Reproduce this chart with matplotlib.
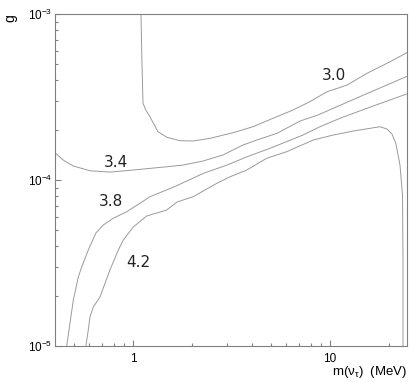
import matplotlib
matplotlib.use("Agg")
import matplotlib.pyplot as plt
from matplotlib.ticker import FixedLocator, FuncFormatter, NullFormatter

plt.rcParams['font.family'] = ['Liberation Sans', 'DejaVu Sans']
plt.rcParams['mathtext.fontset'] = 'custom'
plt.rcParams['mathtext.rm'] = 'Liberation Sans'
plt.rcParams['mathtext.it'] = 'Liberation Sans'

# contour levels and their label positions (MeV, g)
levels = ["3.0", "3.4", "3.8", "4.2"]
label_x = [10.5, 0.82, 0.773, 1.064]
label_y = [4.25e-4, 1.274e-4, 7.42e-5, 3.18e-5]

# contour 3.0
m30 = [1.098, 1.11, 1.124, 1.16, 1.22, 1.339, 1.488, 1.732, 2.017, 2.46, 3.22, 4.07,
       5.14, 6.49, 7.91, 9.66, 12.2, 15.4, 20.2, 24.9]
g30 = [1.0e-3, 5.28e-4, 2.91e-4, 2.65e-4, 2.40e-4, 1.955e-4, 1.807e-4, 1.725e-4,
       1.718e-4, 1.782e-4, 1.927e-4, 2.095e-4, 2.354e-4, 2.64e-4, 2.965e-4,
       3.40e-4, 3.73e-4, 4.39e-4, 5.16e-4, 5.90e-4]

# contour 3.4
m34 = [0.405, 0.443, 0.498, 0.605, 0.764, 1.0, 1.488, 1.794, 2.266, 2.86, 3.62,
       4.26, 5.38, 7.04, 8.69, 10.85, 14.2, 18.6, 24.9]
g34 = [1.449e-4, 1.318e-4, 1.214e-4, 1.137e-4, 1.116e-4, 1.148e-4, 1.202e-4,
       1.230e-4, 1.301e-4, 1.415e-4, 1.625e-4, 1.742e-4, 1.911e-4, 2.265e-4,
       2.464e-4, 2.765e-4, 3.18e-4, 3.65e-4, 4.24e-4]

# contour 3.8
m38 = [0.461, 0.479, 0.498, 0.528, 0.549, 0.593, 0.649, 0.707, 0.794, 0.929,
       1.085, 1.22, 1.634, 2.275, 3.00, 3.79, 4.96, 7.29, 8.90, 11.24, 15.4, 24.9]
g38 = [1.0e-5, 1.377e-5, 1.892e-5, 2.605e-5, 2.99e-5, 3.78e-5, 4.80e-5, 5.36e-5,
       5.88e-5, 6.44e-5, 7.24e-5, 7.93e-5, 9.14e-5, 1.096e-4, 1.230e-4, 1.380e-4,
       1.552e-4, 1.866e-4, 2.094e-4, 2.354e-4, 2.704e-4, 3.32e-4]

# contour 4.2
m42 = [0.577, 0.593, 0.605, 0.629, 0.680, 0.764, 0.842, 0.893, 1.003, 1.174,
       1.483, 1.673, 2.02, 2.66, 3.11, 3.78, 4.77, 6.03, 8.23, 10.39, 13.13,
       17.94, 19.47, 20.64, 21.63, 22.66, 23.34, 23.48, 23.48]
g42 = [1.0e-5, 1.247e-5, 1.495e-5, 1.718e-5, 1.973e-5, 2.87e-5, 3.78e-5, 4.35e-5,
       5.21e-5, 6.07e-5, 6.59e-5, 7.37e-5, 7.93e-5, 9.54e-5, 1.046e-4, 1.148e-4,
       1.351e-4, 1.481e-4, 1.742e-4, 1.866e-4, 1.973e-4, 2.094e-4, 2.028e-4,
       1.892e-4, 1.648e-4, 1.230e-4, 8.13e-5, 3.30e-5, 1.0e-5]

xticks = [1, 10]
xticklabels = ["1", "10"]
yticks = [1e-5, 1e-4, 1e-3]
yticklabels = [r"$10^{-5}$", r"$10^{-4}$", r"$10^{-3}$"]

fig = plt.figure(figsize=(4.09, 3.82), dpi=100)
ax = fig.add_axes([55 / 409, 1 - 346 / 382, 352 / 409, 332 / 382])

line_col = "#9a9a9a"
for mx, gy in [(m30, g30), (m34, g34), (m38, g38), (m42, g42)]:
    ax.plot(mx, gy, color=line_col, lw=0.7)

for t, lx, ly in zip(levels, label_x, label_y):
    ax.text(lx, ly, t, fontsize=11, family="DejaVu Sans", color="#222222",
            ha="center", va="center")

ax.set_xscale("log")
ax.set_yscale("log")
ax.set_xlim(0.402, 24.6)
ax.set_ylim(1e-5, 1e-3)

ax.xaxis.set_major_locator(FixedLocator(xticks))
ax.xaxis.set_major_formatter(FuncFormatter(lambda v, p: xticklabels[p] if p is not None and p < 2 else ""))
ax.xaxis.set_minor_formatter(NullFormatter())
ax.yaxis.set_major_locator(FixedLocator(yticks))
ax.yaxis.set_major_formatter(FuncFormatter(lambda v, p: yticklabels[p] if p is not None and p < 3 else ""))
ax.yaxis.set_minor_formatter(NullFormatter())

ax.tick_params(which="both", direction="in", color="#808080", labelsize=8.5,
               top=False, right=False)
ax.tick_params(which="major", length=4.2, width=0.8)
ax.tick_params(which="minor", length=2.2, width=0.8)
ax.tick_params(axis="x", pad=5)
ax.tick_params(axis="y", pad=2)
for s in ax.spines.values():
    s.set_color("#808080")
    s.set_linewidth(0.8)

fig.text(407 / 409, 1 - 375 / 382, r"m($\nu_\tau$)  (MeV)", ha="right", va="baseline", fontsize=9.5)
fig.text(10 / 409, 1 - 18 / 382, "g", rotation=90, ha="center", va="center", fontsize=10)

fig.savefig("out.png", dpi=100)
